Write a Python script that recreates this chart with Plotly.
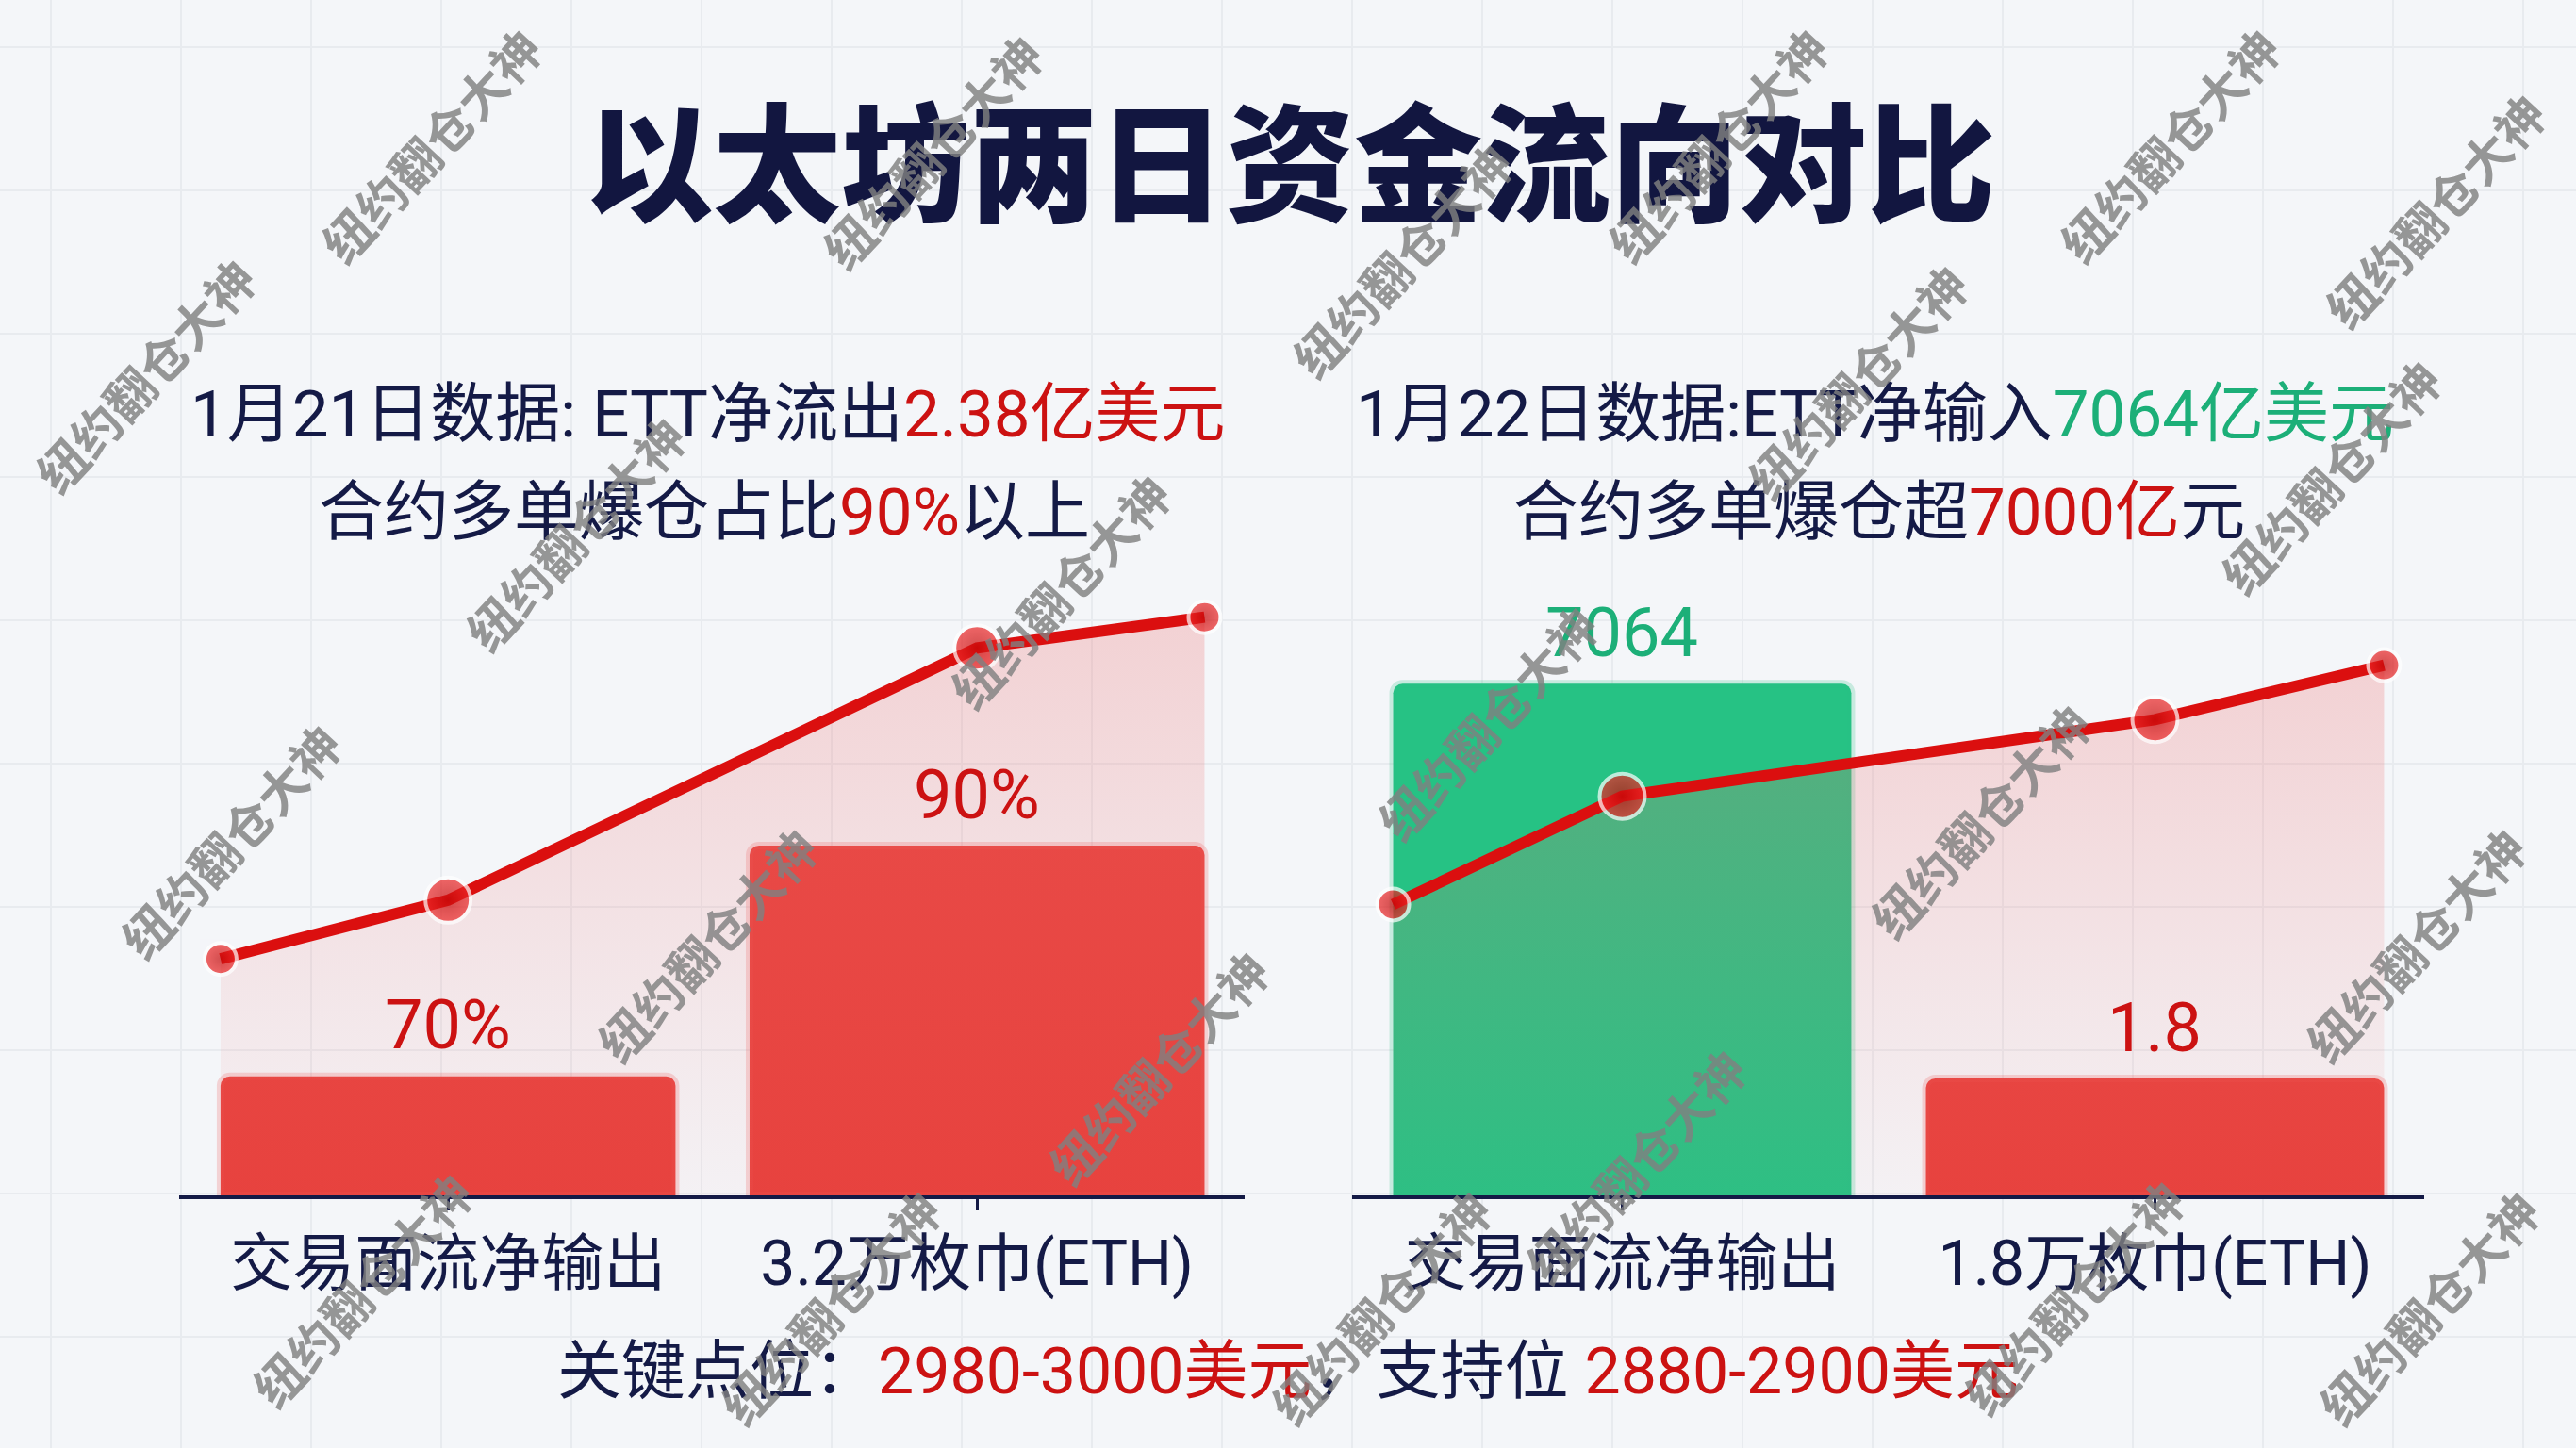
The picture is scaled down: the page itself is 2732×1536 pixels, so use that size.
import plotly.graph_objects as go

FONT = "Roboto, Noto Sans CJK SC, sans-serif"
CJK_FONT = "Noto Sans CJK SC, sans-serif"
NAVY = "#141a46"
RED = "#cc1212"
GREEN = "#1caf78"
LINE_RED = "#db0f0f"
BAR_RED = "#e7403c"
BAR_GREEN = "#26c284"
BAR_W = 0.86

TITLE = "以太坊两日资金流向对比"

# 1月21日
DAY1_HEAD = ["1月21日数据: ETT净流出", "2.38亿美元"]
DAY1_SUB = ["合约多单爆仓占比", "90%", "以上"]
DAY1_CATS = ["交易面流净输出", "3.2万枚巾(ETH)"]
DAY1_BAR = [16.6, 48.8]
DAY1_BAR_TEXT = ["70%", "90%"]
DAY1_LINE = [33.0, 41.2, 76.4, 80.7]

# 1月22日
DAY2_HEAD = ["1月22日数据:ETT净输入", "7064亿美元"]
DAY2_SUB = ["合约多单爆仓超", "7000亿", "元"]
DAY2_CATS = ["交易面流净输出", "1.8万枚巾(ETH)"]
DAY2_BAR = [71.4, 16.3]
DAY2_BAR_TEXT = ["7064", "1.8"]
DAY2_LINE = [40.6, 55.7, 66.4, 74.0]

FOOTER = ["关键点位：", "2980-3000美元", "，支持位 ", "2880-2900美元"]
WATERMARK = "纽约翻仓大神"

# watermark centres, measured on a 1568x882 preview (pulled in from the edges)
WATERMARK_SPOTS = [
    (262, 88), (567, 92), (1045, 88), (1320, 88), (88, 228), (853, 158),
    (1130, 232), (1418, 290), (1482, 128), (350, 325), (645, 360),
    (140, 512), (430, 575), (905, 440), (1205, 500), (1470, 575),
    (705, 650), (220, 785), (995, 710), (1262, 790), (505, 796),
    (840, 796), (1478, 796),
]


def red(s):
    return f"<span style='color:{RED}'>{s}</span>"


def green(s):
    return f"<span style='color:{GREEN}'>{s}</span>"


def add_panel(fig, n, bar_vals, bar_colors, glow_colors, bar_text, text_colors, line_vals):
    xa, ya = f"x{n}", f"y{n}"
    cx = list(range(len(bar_vals)))
    line_x = [cx[0] - BAR_W / 2] + cx + [cx[-1] + BAR_W / 2]
    fig.add_trace(go.Bar(
        x=cx, y=bar_vals, width=BAR_W, xaxis=xa, yaxis=ya,
        marker=dict(color=bar_colors, line=dict(color=glow_colors, width=8)),
        hoverinfo="skip", showlegend=False,
    ))
    fig.add_trace(go.Scatter(
        x=line_x, y=line_vals, xaxis=xa, yaxis=ya,
        mode="lines+markers", fill="tozeroy",
        fillgradient=dict(
            type="vertical",
            colorscale=[[0, "rgba(238,120,120,0.04)"], [1, "rgba(238,110,110,0.27)"]],
            start=0, stop=max(line_vals),
        ),
        line=dict(color=LINE_RED, width=12),
        marker=dict(
            size=[34, 48, 48, 34], color="#ee2a2a",
            gradient=dict(type="radial", color="#c40808"),
            line=dict(color="white", width=4),
        ),
        hoverinfo="skip", showlegend=False,
    ))
    for x, v, t, c in zip(cx, bar_vals, bar_text, text_colors):
        fig.add_annotation(
            x=x, y=v, xref=xa, yref=ya, text=t, showarrow=False,
            yanchor="middle", yshift=54,
            font=dict(family=FONT, size=72, color=c),
        )


fig = go.Figure()
# background graph-paper grid lives on the first subplot
fig.add_trace(go.Scatter(x=[], y=[], hoverinfo="skip", showlegend=False))

add_panel(fig, 2, DAY1_BAR, [BAR_RED, BAR_RED],
          ["rgba(235,80,80,0.22)"] * 2, DAY1_BAR_TEXT, [RED, RED], DAY1_LINE)
add_panel(fig, 3, DAY2_BAR, [BAR_GREEN, BAR_RED],
          ["rgba(40,190,130,0.22)", "rgba(235,80,80,0.22)"],
          DAY2_BAR_TEXT, [GREEN, RED], DAY2_LINE)

cat_axis = dict(
    tickmode="array", tickvals=[0, 1], ticks="outside", ticklen=12,
    tickwidth=3, tickcolor=NAVY, showline=True, linecolor=NAVY, linewidth=4,
    showgrid=False, zeroline=False, ticklabelstandoff=0,
    tickfont=dict(family=FONT, size=66, color=NAVY),
)
val_axis = dict(range=[0, 100], visible=False, fixedrange=True)

fig.update_layout(
    width=2732, height=1536,
    margin=dict(l=0, r=0, t=0, b=0),
    paper_bgcolor="#f4f6f9",
    plot_bgcolor="rgba(0,0,0,0)",
    barcornerradius=10,
    xaxis=dict(domain=[0, 1], range=[0, 2732], tick0=192, dtick=138,
               showgrid=True, gridcolor="#e8ebef", gridwidth=2,
               showticklabels=False, zeroline=False, fixedrange=True),
    yaxis=dict(domain=[0, 1], range=[0, 1536], tick0=118, dtick=152,
               showgrid=True, gridcolor="#e8ebef", gridwidth=2,
               showticklabels=False, zeroline=False, fixedrange=True),
    xaxis2=dict(cat_axis, domain=[0.0694, 0.4832], range=[-0.509, 1.506],
                anchor="y2", ticktext=DAY1_CATS),
    yaxis2=dict(val_axis, domain=[0.1745, 0.6693], anchor="x2"),
    xaxis3=dict(cat_axis, domain=[0.5249, 0.9410], range=[-0.507, 1.505],
                anchor="y3", ticktext=DAY2_CATS),
    yaxis3=dict(val_axis, domain=[0.1745, 0.6693], anchor="x3"),
)

texts = [
    (TITLE, 0.5006, 0.892, dict(family=CJK_FONT, size=136, color="#121640", weight=900)),
    (DAY1_HEAD[0] + red(DAY1_HEAD[1]), 0.2746, 0.714, dict(family=FONT, size=69, color=NAVY)),
    (DAY1_SUB[0] + red(DAY1_SUB[1]) + DAY1_SUB[2], 0.2733, 0.6463, dict(family=FONT, size=69, color=NAVY)),
    (DAY2_HEAD[0] + green(DAY2_HEAD[1]), 0.728, 0.714, dict(family=FONT, size=69, color=NAVY)),
    (DAY2_SUB[0] + red(DAY2_SUB[1]) + DAY2_SUB[2], 0.7296, 0.6463, dict(family=FONT, size=69, color=NAVY)),
    (FOOTER[0] + red(FOOTER[1]) + FOOTER[2] + red(FOOTER[3]), 0.5, 0.0527, dict(family=FONT, size=68, color=NAVY)),
]
for text, x, y, font in texts:
    fig.add_annotation(text=text, x=x, y=y, xref="paper", yref="paper",
                       xanchor="center", yanchor="middle", showarrow=False, font=font)

for px_, py_ in WATERMARK_SPOTS:
    fig.add_annotation(
        text=WATERMARK, x=px_ / 1568, y=1 - py_ / 882, xref="paper", yref="paper",
        showarrow=False, textangle=-47, xanchor="center", yanchor="middle",
        font=dict(family=CJK_FONT, size=52, color="rgba(128,128,128,0.82)", weight=700),
    )

fig.write_html("out.html", config={"displayModeBar": False},
               post_script="document.body.style.margin='0';")
